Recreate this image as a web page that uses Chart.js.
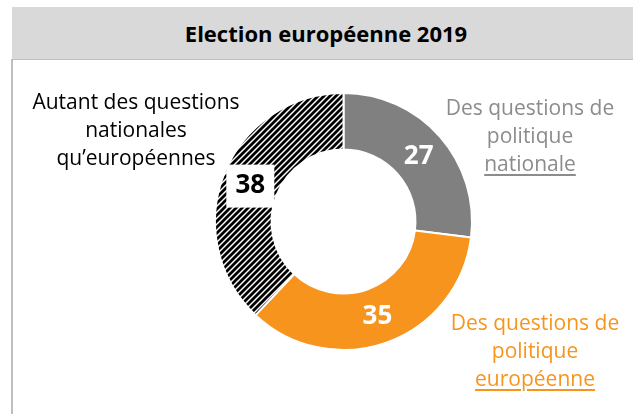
<!DOCTYPE html>
<html>
<head>
<meta charset="utf-8">
<script src="https://cdn.jsdelivr.net/npm/chart.js@4/dist/chart.umd.min.js"></script>
<style>
  body { margin: 0; width: 633px; height: 414px; overflow: hidden; background: #fff; font-family: "Open Sans", Lato, sans-serif; }
  #titlebar { position: absolute; left: 12px; top: 7px; width: 640px; height: 52px; background: #d9d9d9; }
  #title { position: absolute; left: 0; width: 652px; top: 18px; text-align: center; font-weight: bold; font-size: 22px; line-height: 30px; color: #000; }
  #frame { position: absolute; left: 11px; top: 59px; width: 640px; height: 400px; border-left: 2px solid #bfbfbf; border-top: 1px solid #bfbfbf; }
  #wrap { position: absolute; left: 0; top: 0; width: 633px; height: 414px; }
  .lbl { position: absolute; text-align: center; font-size: 21px; line-height: 28px; white-space: nowrap; }
  .lbl u { text-underline-offset: 3px; }
</style>
</head>
<body>
<div id="titlebar"></div>
<div id="title">Election européenne 2019</div>
<div id="frame"></div>
<div id="wrap"><canvas id="chart" width="633" height="414"></canvas></div>
<div class="lbl" id="lbl2" style="left:26px; top:87px; width:220px; color:#000;"></div>
<div class="lbl" id="lbl0" style="left:430px; top:93px; width:200px; color:#8c8c8c;"></div>
<div class="lbl" id="lbl1" style="left:435px; top:308px; width:200px; color:#f7941d;"></div>
<script>
// data
const categories = ['Des questions de politique nationale', 'Des questions de politique européenne', 'Autant des questions nationales qu’européennes']
const values = [27, 35, 38]
// label lines (last line underlined for the first two)
const labelLines = [
  ['Des questions de', 'politique', 'nationale'],
  ['Des questions de', 'politique', 'européenne'],
  ['Autant des questions', 'nationales', 'qu’européennes']
]

labelLines.forEach((lines, i) => {
  const el = document.getElementById('lbl' + i)
  el.innerHTML = lines.map((t, j) => (i < 2 && j === lines.length - 1) ? '<u>' + t + '</u>' : t).join('<br>')
})

// hatch pattern
const makeHatch = () => {
  const s = 6
  const c = document.createElement('canvas')
  c.width = s; c.height = s
  const x = c.getContext('2d')
  x.fillStyle = '#fff'
  x.fillRect(0, 0, s, s)
  x.strokeStyle = '#000'
  x.lineWidth = 2.8
  x.beginPath()
  x.moveTo(0, s); x.lineTo(s, 0)
  x.moveTo(-1, 1); x.lineTo(1, -1)
  x.moveTo(s - 1, s + 1); x.lineTo(s + 1, s - 1)
  x.stroke()
  return x.createPattern(c, 'repeat')
}

const ctx = document.getElementById('chart').getContext('2d')

// draws the numbers on the ring
const valueLabels = {
  id: 'valueLabels',
  afterDatasetsDraw(chart) {
    const c = chart.ctx
    const meta = chart.getDatasetMeta(0)
    c.save()
    c.font = 'bold 26px "Open Sans", sans-serif'
    c.textAlign = 'center'
    c.textBaseline = 'middle'
    meta.data.forEach((arc, i) => {
      const p = arc.getCenterPoint()
      const txt = String(values[i])
      if (i === 2) {
        c.fillStyle = '#fff'
        c.fillRect(p.x - 24, p.y - 20, 48, 43)
        c.fillStyle = '#000'
      } else {
        c.fillStyle = '#fff'
      }
      c.fillText(txt, p.x, p.y + 1)
    })
    c.restore()
  }
}

new Chart(ctx, {
  type: 'doughnut',
  data: {
    labels: categories,
    datasets: [{
      data: values,
      backgroundColor: ['#808080', '#f7941d', makeHatch()],
      borderColor: '#fff',
      borderWidth: 2
    }]
  },
  options: {
    responsive: false,
    animation: false,
    cutout: '56%',
    layout: { padding: { left: 214, right: 160, top: 92, bottom: 63 } },
    plugins: {
      legend: { display: false },
      tooltip: { enabled: false },
      title: { display: false }
    }
  },
  plugins: [valueLabels]
})
</script>
</body>
</html>
